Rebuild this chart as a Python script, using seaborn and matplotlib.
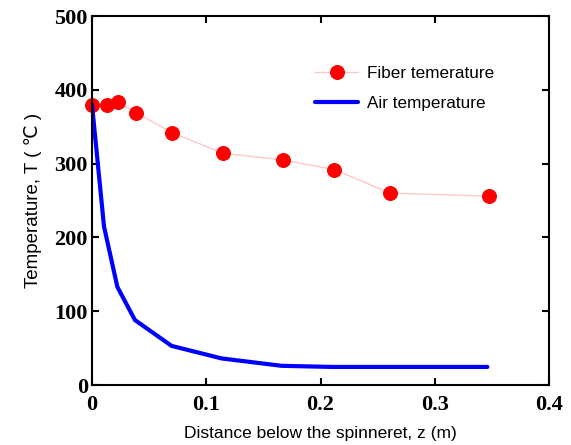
import matplotlib
matplotlib.use("Agg")
import matplotlib.pyplot as plt
import seaborn as sns
import pandas as pd

fiber_z = [0.0, 0.013, 0.023, 0.0385, 0.070, 0.115, 0.167, 0.212, 0.261, 0.3475]
fiber_T = [380, 380, 383, 369, 342, 314, 305, 292, 260, 256]

air_z = [0.0, 0.0105, 0.0222, 0.0376, 0.0697, 0.1135, 0.166, 0.21, 0.26, 0.346]
air_T = [380, 215, 133, 88, 53, 36, 26, 24.5, 24.5, 24.5]

x_ticks = [0, 0.1, 0.2, 0.3, 0.4]
x_labels = ["0", "0.1", "0.2", "0.3", "0.4"]
y_ticks = [0, 100, 200, 300, 400, 500]

sns.set_theme(style="ticks")
plt.rcParams['font.family'] = ['Liberation Sans', 'DejaVu Sans']
plt.rcParams['text.color'] = 'black'
plt.rcParams['axes.labelcolor'] = 'black'

fig = plt.figure(figsize=(5.71, 4.45), dpi=100)
ax = fig.add_axes([0.1611, 0.1348, 0.8004, 0.8292])

df_f = pd.DataFrame({"z": fiber_z, "T": fiber_T})
df_a = pd.DataFrame({"z": air_z, "T": air_T})

sns.lineplot(data=df_f, x="z", y="T", ax=ax, color="#ffc8c8", linewidth=1.0,
             marker="o", markersize=10, markerfacecolor="red", markeredgecolor="red",
             label="Fiber temerature", clip_on=False)
sns.lineplot(data=df_a, x="z", y="T", ax=ax, color="#0000ff", linewidth=3.0,
             label="Air temperature")

ax.set_xlim(0, 0.4)
ax.set_ylim(0, 500)
ax.set_xticks(x_ticks)
ax.set_xticklabels(x_labels)
ax.set_yticks(y_ticks)
for lab in ax.get_xticklabels() + ax.get_yticklabels():
    lab.set_fontfamily(['Liberation Serif', 'DejaVu Serif'])
    lab.set_fontweight('bold')
    lab.set_fontsize(16)
ax.tick_params(direction="in", length=5, width=1.5, top=True, right=True, pad=3,
               colors="black", labelcolor="black")
ax.tick_params(axis="x", pad=7)
for s in ax.spines.values():
    s.set_linewidth(1.5)
    s.set_color("black")

ax.set_xlabel("Distance below the spinneret, z (m)", fontsize=12.5, labelpad=8)
ax.set_ylabel("Temperature, T ( \u2103 )", fontsize=13.5, labelpad=9)

leg = ax.legend(loc="upper left", bbox_to_anchor=(0.455, 0.905), frameon=False, fontsize=12.3,
                handlelength=2.5, handletextpad=0.5, labelspacing=0.85)
for t in leg.get_texts():
    t.set_color("black")

fig.savefig("out.png", dpi=100)
